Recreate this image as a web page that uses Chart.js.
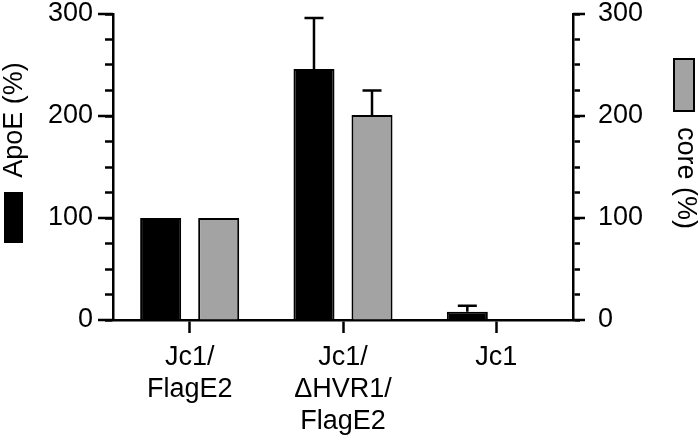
<!DOCTYPE html>
<html>
<head>
<meta charset="utf-8">
<script src="https://cdn.jsdelivr.net/npm/chart.js@4.4.0/dist/chart.umd.min.js"></script>
<style>
  html, body { margin: 0; padding: 0; background: #fff; }
  #wrap { width: 700px; height: 442px; }
</style>
</head>
<body>
<div id="wrap"><canvas id="barChart" width="700" height="442"></canvas></div>
<script>
// data
const categories = [['Jc1/', 'FlagE2'], ['Jc1/', '\u0394HVR1/', 'FlagE2'], ['Jc1']];
const apoeValues = [100, 246, 8];
const apoeErrors = [0, 50, 6];
const coreValues = [100, 201, 0];
const coreErrors = [0, 24, 0];
const majorTicks = [0, 100, 200, 300];

const FONT = '"Liberation Sans", Arial, sans-serif';
const SIZE = 27;
Chart.defaults.font.family = FONT;
Chart.defaults.color = '#000';

// upward error bars from the bar tops
const errorBars = {
    id: 'errorBars',
    afterDatasetsDraw(chart) {
        const ctx = chart.ctx;
        const y = chart.scales.y;
        const errs = [apoeErrors, coreErrors];
        ctx.save();
        ctx.strokeStyle = '#000';
        ctx.lineWidth = 2.5;
        chart.data.datasets.forEach((ds, di) => {
            chart.getDatasetMeta(di).data.forEach((bar, i) => {
                const e = errs[di][i];
                if (!e) return;
                const yTop = y.getPixelForValue(ds.data[i] + e);
                const yBar = y.getPixelForValue(ds.data[i]);
                ctx.beginPath();
                ctx.moveTo(bar.x, yBar);
                ctx.lineTo(bar.x, yTop);
                ctx.moveTo(bar.x - 9.5, yTop);
                ctx.lineTo(bar.x + 9.5, yTop);
                ctx.stroke();
            });
        });
        ctx.restore();
    }
};

// longer major ticks, side keys and rotated axis titles
const decorations = {
    id: 'decorations',
    afterDraw(chart) {
        const ctx = chart.ctx;
        const yl = chart.scales.y;
        const yr = chart.scales.y2;
        ctx.save();
        ctx.strokeStyle = '#000';
        ctx.lineWidth = 2.5;
        majorTicks.forEach(v => {
            const py = yl.getPixelForValue(v);
            ctx.beginPath();
            ctx.moveTo(yl.right - 15, py);
            ctx.lineTo(yl.right, py);
            ctx.moveTo(yr.left, py);
            ctx.lineTo(yr.left + 12, py);
            ctx.stroke();
        });

        // left: black key + "ApoE (%)"
        ctx.fillStyle = '#000';
        ctx.fillRect(4, 192, 19, 51);
        ctx.font = SIZE + 'px ' + FONT;
        ctx.textAlign = 'center';
        ctx.textBaseline = 'middle';
        ctx.save();
        ctx.translate(15, 120);
        ctx.rotate(-Math.PI / 2);
        ctx.fillText('ApoE (%)', 0, 0);
        ctx.restore();

        // right: grey key + "core (%)"
        ctx.fillStyle = '#a3a3a3';
        ctx.fillRect(674, 59, 20, 52);
        ctx.lineWidth = 2;
        ctx.strokeRect(674, 59, 20, 52);
        ctx.fillStyle = '#000';
        ctx.save();
        ctx.translate(685, 178);
        ctx.rotate(Math.PI / 2);
        ctx.fillText('core (%)', 0, 0);
        ctx.restore();
        ctx.restore();
    }
};

const tickLabel = v => (v % 100 === 0 ? String(v) : '');
const noPad = s => { s.paddingTop = 0; s.paddingBottom = 0; };

const ctx = document.getElementById('barChart').getContext('2d');
new Chart(ctx, {
    type: 'bar',
    data: {
        labels: categories,
        datasets: [{
            label: 'ApoE (%)',
            data: apoeValues,
            backgroundColor: '#000',
            borderColor: '#000',
            borderWidth: 2,
            yAxisID: 'y'
        }, {
            label: 'core (%)',
            data: coreValues,
            backgroundColor: '#a3a3a3',
            borderColor: '#000',
            borderWidth: 2,
            yAxisID: 'y'
        }]
    },
    options: {
        responsive: false,
        animation: false,
        categoryPercentage: 0.757,
        barPercentage: 0.707,
        layout: { padding: { top: 14, left: 0, right: 0, bottom: 0 } },
        plugins: {
            legend: { display: false },
            tooltip: { enabled: false }
        },
        scales: {
            x: {
                grid: {
                    offset: false,
                    drawOnChartArea: false,
                    tickLength: 13,
                    tickColor: '#000',
                    tickWidth: 2.5
                },
                border: { color: '#000', width: 2.5 },
                ticks: { font: { size: SIZE, lineHeight: 1.2 }, padding: 8, maxRotation: 0 },
                afterFit: s => { s.height = 122; s.paddingLeft = 0; s.paddingRight = 0; }
            },
            y: {
                position: 'left',
                min: 0,
                max: 300,
                grid: {
                    drawOnChartArea: false,
                    tickLength: 8,
                    tickColor: '#000',
                    tickWidth: 2.5
                },
                border: { color: '#000', width: 2.5 },
                ticks: { stepSize: 25, autoSkip: false, callback: tickLabel, font: { size: SIZE }, padding: 12 },
                afterFit: s => { s.width = 113; noPad(s); }
            },
            y2: {
                position: 'right',
                min: 0,
                max: 300,
                grid: {
                    drawOnChartArea: false,
                    tickLength: 7,
                    tickColor: '#000',
                    tickWidth: 2.5
                },
                border: { color: '#000', width: 2.5 },
                ticks: { stepSize: 25, autoSkip: false, callback: tickLabel, font: { size: SIZE }, padding: 18 },
                afterFit: s => { s.width = 127; noPad(s); }
            }
        }
    },
    plugins: [errorBars, decorations]
});
</script>
</body>
</html>
